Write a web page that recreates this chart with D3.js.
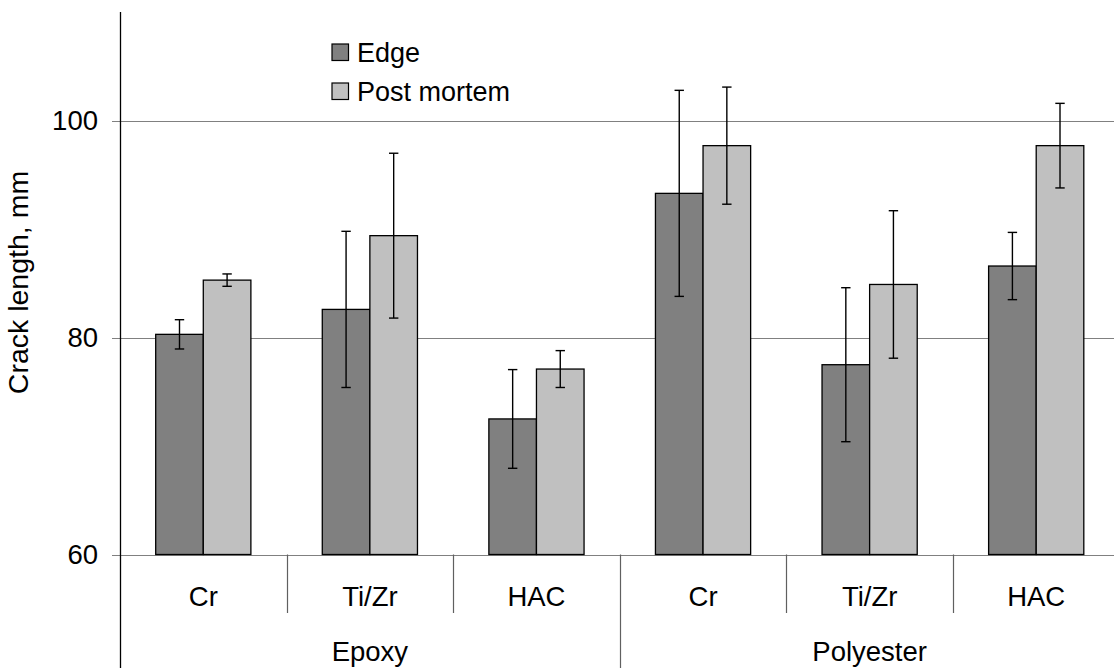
<!DOCTYPE html>
<html>
<head>
<meta charset="utf-8">
<script src="https://cdn.jsdelivr.net/npm/d3@7"></script>
<style>
  body { margin: 0; background: #fff; }
  svg text { font-family: 'Liberation Sans', Arial, sans-serif; fill: #000; }
</style>
</head>
<body>
<div id="chart"></div>
<script>
// Crack length by resin / surface treatment, edge vs post mortem

const resins = ['Epoxy', 'Polyester'];
const treatments = ['Cr', 'Ti/Zr', 'HAC'];
const seriesNames = ['Edge', 'Post mortem'];
const yTicks = [60, 80, 100];

// one value per resin x treatment, in the order above
const edgeMean = [80.3, 82.6, 72.5, 93.3, 77.5, 86.6];
const edgeErr = [1.35, 7.2, 4.55, 9.5, 7.1, 3.1];
const postMean = [85.3, 89.4, 77.1, 97.7, 84.9, 97.7];
const postErr = [0.57, 7.6, 1.7, 5.4, 6.8, 3.9];

const colors = { 'Edge': '#808080', 'Post mortem': '#c0c0c0' };

const svgWidth = 1114;
const svgHeight = 668;

let svg = d3.select('#chart')
  .append('svg')
  .attr('width', svgWidth)
  .attr('height', svgHeight);

// group keys: resin|treatment
let groups = [];
resins.forEach(r => treatments.forEach(t => groups.push({ resin: r, treatment: t, key: r + '|' + t })));

let rows = groups.map((g, i) => ({
  key: g.key,
  resin: g.resin,
  treatment: g.treatment,
  values: [
    { name: 'Edge', mean: edgeMean[i], err: edgeErr[i] },
    { name: 'Post mortem', mean: postMean[i], err: postErr[i] }
  ]
}));

let x0 = d3.scaleBand()
  .domain(groups.map(g => g.key))
  .range([120, 1119.5]);

let x1 = d3.scaleBand()
  .domain(seriesNames)
  .range([0, x0.bandwidth()])
  .paddingOuter(0.75);

let y = d3.scaleLinear()
  .domain([60, 110])
  .range([554.5, 12.25]);

// gridlines + y ticks
svg.append('g')
  .selectAll('line')
  .data(yTicks)
  .enter()
  .append('line')
  .attr('x1', 112)
  .attr('x2', svgWidth)
  .attr('y1', d => Math.round(y(d)) + 0.5)
  .attr('y2', d => Math.round(y(d)) + 0.5)
  .attr('stroke', '#808080')
  .attr('stroke-width', 1.2);

svg.append('g')
  .selectAll('text')
  .data(yTicks)
  .enter()
  .append('text')
  .attr('x', 98)
  .attr('y', d => y(d))
  .attr('dy', '0.35em')
  .attr('text-anchor', 'end')
  .attr('font-size', '27.5px')
  .text(d => d);

// category dividers
let dividers = groups.map((g, i) => ({ x: x0(g.key), long: i % treatments.length === 0 }));
dividers.shift();
svg.append('g')
  .selectAll('line')
  .data(dividers)
  .enter()
  .append('line')
  .attr('x1', d => Math.round(d.x) + 0.5)
  .attr('x2', d => Math.round(d.x) + 0.5)
  .attr('y1', y(60))
  .attr('y2', d => d.long ? svgHeight : 613)
  .attr('stroke', '#606060')
  .attr('stroke-width', 1.2);

// bars
let groupSel = svg.append('g')
  .selectAll('g')
  .data(rows)
  .enter()
  .append('g')
  .attr('transform', d => `translate(${x0(d.key)}, 0)`);

groupSel.selectAll('rect')
  .data(d => d.values)
  .enter()
  .append('rect')
  .attr('x', d => x1(d.name))
  .attr('y', d => y(d.mean))
  .attr('width', x1.bandwidth())
  .attr('height', d => y(60) - y(d.mean))
  .attr('fill', d => colors[d.name])
  .attr('stroke', '#000')
  .attr('stroke-width', 1.3);

// error bars
let errSel = groupSel.selectAll('g.err')
  .data(d => d.values)
  .enter()
  .append('g')
  .attr('class', 'err')
  .attr('stroke', '#000')
  .attr('stroke-width', 1.4);

errSel.append('line')
  .attr('x1', d => x1(d.name) + x1.bandwidth() / 2)
  .attr('x2', d => x1(d.name) + x1.bandwidth() / 2)
  .attr('y1', d => y(d.mean + d.err))
  .attr('y2', d => y(d.mean - d.err));

errSel.selectAll('line.cap')
  .data(d => [{ d: d, v: d.mean + d.err }, { d: d, v: d.mean - d.err }])
  .enter()
  .append('line')
  .attr('class', 'cap')
  .attr('x1', c => x1(c.d.name) + x1.bandwidth() / 2 - 4.7)
  .attr('x2', c => x1(c.d.name) + x1.bandwidth() / 2 + 4.7)
  .attr('y1', c => y(c.v))
  .attr('y2', c => y(c.v));

// y axis line
svg.append('line')
  .attr('x1', 120.5)
  .attr('x2', 120.5)
  .attr('y1', 12)
  .attr('y2', svgHeight)
  .attr('stroke', '#000')
  .attr('stroke-width', 1.3);

// treatment labels
svg.append('g')
  .selectAll('text')
  .data(groups)
  .enter()
  .append('text')
  .attr('x', d => x0(d.key) + x0.bandwidth() / 2)
  .attr('y', 606)
  .attr('text-anchor', 'middle')
  .attr('font-size', '27.5px')
  .text(d => d.treatment);

// resin labels
svg.append('g')
  .selectAll('text')
  .data(resins)
  .enter()
  .append('text')
  .attr('x', r => {
    let keys = groups.filter(g => g.resin === r).map(g => g.key);
    return (x0(keys[0]) + x0(keys[keys.length - 1]) + x0.bandwidth()) / 2;
  })
  .attr('y', 661)
  .attr('text-anchor', 'middle')
  .attr('font-size', '27.5px')
  .text(r => r);

// y axis title
svg.append('text')
  .attr('transform', 'translate(28, 282.5) rotate(-90)')
  .attr('text-anchor', 'middle')
  .attr('font-size', '28.5px')
  .text('Crack length, mm');

// legend
let legend = svg.append('g')
  .selectAll('g')
  .data(seriesNames)
  .enter()
  .append('g')
  .attr('transform', (d, i) => `translate(332, ${44 + i * 39})`);

legend.append('rect')
  .attr('width', 16.5)
  .attr('height', 16.5)
  .attr('fill', d => colors[d])
  .attr('stroke', '#000')
  .attr('stroke-width', 1.2);

legend.append('text')
  .attr('x', 25)
  .attr('y', 17.5)
  .attr('font-size', '27px')
  .text(d => d);
</script>
</body>
</html>
